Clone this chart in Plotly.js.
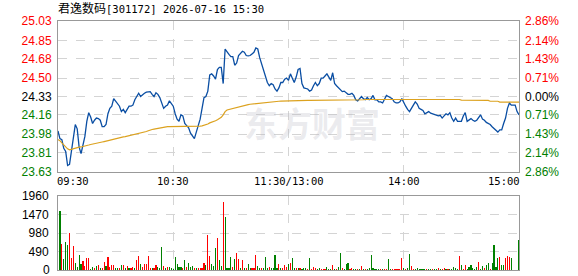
<!DOCTYPE html>
<html><head><meta charset="utf-8">
<script src="https://cdn.plot.ly/plotly-3.0.1.min.js"></script>
<style>html,body{margin:0;padding:0;background:#fff}#c{width:578px;height:276px}</style>
</head><body><div id="c"></div>
<script>
// ---- data ----
const titleName = '君逸数码';
const titleRest = '[301172] 2026-07-16 15:30';
const prevClose = 24.33;
const priceTickLabels = ['23.63','23.81','23.98','24.16','24.33','24.50','24.68','24.85','25.03'];
const pctTickLabels = ['2.86%','2.14%','1.43%','0.71%','0.00%','0.71%','1.43%','2.14%','2.86%'];
const volTickLabels = ['0','490','980','1470','1960'];
const timeLabels = ['09:30','10:30','11:30/13:00','14:00','15:00'];
const timeLabelMinutes = [0,60,120,180,240];

const price = [
24.01,23.94,23.93,23.85,23.82,23.69,23.70,23.81,23.93,24.07,
24.03,23.86,23.80,23.87,23.96,24.10,24.18,24.14,24.08,24.11,
24.13,24.125,24.11,24.05,24.05,24.07,24.17,24.22,24.24,24.31,
24.29,24.27,24.24,24.19,24.21,24.18,24.21,24.24,24.24,24.25,
24.30,24.33,24.36,24.33,24.35,24.36,24.37,24.37,24.375,24.35,
24.33,24.365,24.35,24.32,24.27,24.22,24.24,24.25,24.29,24.27,
24.24,24.17,24.12,24.10,24.16,24.15,24.08,24.06,24.04,23.99,
23.96,23.94,24.00,24.05,24.12,24.22,24.32,24.33,24.38,24.53,
24.54,24.52,24.49,24.58,24.60,24.60,24.45,24.77,24.74,24.72,
24.70,24.70,24.62,24.64,24.71,24.73,24.75,24.74,24.71,24.706,
24.71,24.725,24.74,24.78,24.77,24.69,24.63,24.57,24.53,24.46,
24.43,24.45,24.44,24.40,24.38,24.41,24.46,24.46,24.49,24.50,
24.48,24.54,24.50,24.46,24.51,24.58,24.59,24.45,24.41,24.406,
24.40,24.38,24.39,24.43,24.46,24.43,24.45,24.50,24.50,24.52,
24.54,24.51,24.48,24.55,24.45,24.43,24.41,24.39,24.375,24.38,
24.36,24.35,24.35,24.36,24.34,24.30,24.29,24.31,24.33,24.31,
24.30,24.32,24.30,24.31,24.34,24.30,24.30,24.28,24.28,24.27,
24.30,24.34,24.33,24.32,24.31,24.28,24.27,24.27,24.28,24.31,
24.27,24.24,24.21,24.19,24.22,24.25,24.28,24.26,24.22,24.21,
24.20,24.17,24.18,24.19,24.175,24.17,24.16,24.16,24.15,24.155,
24.13,24.15,24.17,24.16,24.18,24.13,24.10,24.13,24.10,24.10,
24.10,24.15,24.18,24.10,24.11,24.125,24.11,24.10,24.11,24.14,
24.16,24.12,24.11,24.09,24.08,24.07,24.05,24.03,24.02,24.00,
24.02,24.02,24.08,24.13,24.22,24.27,24.25,24.25,24.25,24.19,
24.16];

const avgPrice = [
23.93,23.92,23.90,23.88,23.86,23.845,23.835,23.84,23.85,23.855,
23.856,23.86,23.862,23.865,23.87,23.875,23.88,23.885,23.89,23.895,
23.90,23.902,23.905,23.908,23.912,23.917,23.92,23.925,23.93,23.935,
23.94,23.942,23.946,23.952,23.955,23.958,23.962,23.966,23.97,23.973,
23.977,23.98,23.985,23.99,23.995,24.00,24.005,24.012,24.02,24.024,
24.028,24.032,24.036,24.04,24.044,24.046,24.048,24.05,24.05,24.05,
24.05,24.05,24.05,24.05,24.05,24.05,24.05,24.05,24.05,24.05,
24.05,24.05,24.05,24.052,24.055,24.058,24.062,24.068,24.075,24.085,
24.09,24.096,24.105,24.115,24.125,24.137,24.16,24.19,24.205,24.21,
24.215,24.22,24.226,24.23,24.235,24.24,24.245,24.25,24.252,24.255,
24.258,24.26,24.263,24.266,24.27,24.273,24.275,24.277,24.279,24.28,
24.281,24.282,24.283,24.284,24.285,24.286,24.287,24.288,24.289,24.29,
24.29,24.29,24.291,24.291,24.292,24.292,24.292,24.293,24.293,24.293,
24.294,24.294,24.294,24.295,24.295,24.295,24.296,24.296,24.296,24.297,
24.297,24.297,24.298,24.298,24.299,24.299,24.30,24.30,24.30,24.30,
24.30,24.30,24.30,24.30,24.30,24.30,24.30,24.30,24.30,24.30,
24.302,24.302,24.302,24.302,24.302,24.302,24.302,24.302,24.302,24.302,
24.304,24.304,24.304,24.304,24.304,24.304,24.304,24.304,24.304,24.304,
24.304,24.304,24.304,24.304,24.304,24.304,24.304,24.304,24.304,24.304,
24.303,24.303,24.303,24.303,24.303,24.303,24.303,24.303,24.303,24.303,
24.302,24.302,24.302,24.302,24.302,24.302,24.302,24.302,24.302,24.302,
24.296,24.296,24.296,24.296,24.296,24.296,24.296,24.296,24.296,24.296,
24.294,24.294,24.294,24.294,24.294,24.286,24.286,24.286,24.286,24.286,
24.278,24.278,24.278,24.278,24.278,24.278,24.278,24.278,24.278,24.278,
24.278];

const volume = [
1572,698,300,750,671,989,327,645,194,80,
406,150,230,100,330,330,30,80,50,100,
130,50,50,220,100,350,80,120,120,50,
50,50,130,130,50,100,40,40,80,40,
260,370,150,80,150,150,360,60,40,60,
120,80,60,600,100,50,80,90,60,30,
350,150,80,80,40,260,80,180,80,100,
50,40,40,60,60,190,140,940,380,150,
100,580,850,260,100,1800,1410,40,40,350,
80,300,440,300,60,260,60,40,150,50,
40,40,400,100,60,40,40,350,40,80,
40,40,400,40,150,40,60,120,80,150,
185,327,50,50,50,50,30,50,50,30,
327,30,90,50,30,50,30,30,30,90,
30,30,140,30,30,90,460,50,30,170,
195,30,60,30,30,30,30,97,30,30,
30,50,406,50,30,30,30,30,30,30,
30,300,30,30,30,30,30,30,327,50,
30,60,433,115,30,30,50,30,30,30,
30,30,30,30,30,30,30,50,30,30,
50,30,30,30,30,88,50,30,380,124,
30,140,30,88,124,50,30,88,220,30,
115,50,140,195,30,195,670,88,327,350,
140,140,327,380,350,327,10,10,10,800];

// 1 = up (red), -1 = down (green)
const volDir = [
-1,1,-1,-1,-1,1,1,1,-1,-1,
-1,-1,1,1,1,1,-1,-1,1,-1,
1,-1,1,1,-1,1,1,1,1,-1,
-1,1,-1,1,-1,1,-1,1,1,-1,
1,1,-1,1,1,1,1,1,-1,1,
1,-1,-1,-1,1,-1,1,-1,-1,-1,
-1,-1,-1,-1,1,-1,1,-1,-1,-1,
1,-1,1,1,1,1,-1,1,1,-1,
-1,-1,1,-1,-1,1,-1,-1,-1,-1,
1,-1,1,1,-1,1,-1,1,-1,-1,
1,1,1,-1,-1,1,-1,-1,-1,1,
-1,-1,-1,-1,1,-1,1,1,1,-1,
1,-1,-1,1,-1,1,-1,-1,-1,1,
-1,1,1,1,-1,-1,1,1,1,-1,
-1,-1,1,-1,1,-1,-1,1,-1,-1,
-1,1,1,-1,-1,1,-1,1,-1,1,
-1,-1,-1,-1,-1,-1,-1,1,-1,1,
1,-1,-1,1,1,1,1,1,1,-1,
1,-1,-1,1,1,-1,-1,-1,-1,-1,
-1,1,-1,-1,1,-1,-1,1,-1,1,
1,-1,1,-1,-1,-1,-1,-1,1,-1,
1,1,-1,-1,-1,-1,-1,-1,1,-1,
-1,1,-1,-1,1,-1,-1,-1,-1,1,
-1,-1,1,1,1,-1,-1,1,-1,-1];

// ---- build ----
const RED = '#ff0000', GREEN = '#008000', BLACK = '#000000';
const minutes = price.map((_, i) => i);
const volX = volume.map((_, i) => i + 1);
const tickVals = priceTickLabels.map(Number);
const mid = Math.floor(tickVals.length / 2);
function colorFor(i){ return i > mid ? RED : (i === mid ? BLACK : GREEN); }
const leftText = priceTickLabels.map((t,i)=>`<span style="color:${colorFor(i)}">${t}</span>`);
const rightText = pctTickLabels.map((t,i)=>`<span style="color:${colorFor(i)}">${t}</span>`);
const yRange = [tickVals[0], tickVals[tickVals.length-1]];
const volTickVals = volTickLabels.map(Number);

const gridC = '#d4d4d4', boxC = '#999999';
const tickFont = {family:'Liberation Sans, Arial, sans-serif', size:12, color:BLACK};

const traces = [
  {x: minutes, y: price, type:'scatter', mode:'lines', line:{color:'#0a4ea3', width:1.3}, xaxis:'x', yaxis:'y', hoverinfo:'skip'},
  {x: minutes, y: avgPrice, type:'scatter', mode:'lines', line:{color:'#dca21f', width:1.2}, xaxis:'x', yaxis:'y3', hoverinfo:'skip'},
  {x: volX, y: volume, type:'bar', width:0.6, marker:{color: volDir.map(d=> d>0 ? RED : GREEN), line:{width:0}}, xaxis:'x2', yaxis:'y2', hoverinfo:'skip'}
];

const xCommon = {range:[0,240], tickmode:'array', tickvals:[60,120,180], showticklabels:false, ticks:'',
  showgrid:true, gridcolor:gridC, griddash:'dash', gridwidth:1, showline:true, mirror:true, linecolor:boxC, linewidth:1, zeroline:false, fixedrange:true};

const annotations = timeLabels.map((t,i)=>({
  text:t, x:timeLabelMinutes[i], xref:'x', y:0.357, yref:'paper', showarrow:false,
  xanchor: i===0 ? 'left' : (i===timeLabels.length-1 ? 'right' : 'center'), yanchor:'middle',
  font:{family:'DejaVu Sans Mono, monospace', size:10.5, color:BLACK}, xshift: i===0 ? -3 : (i===timeLabels.length-1 ? 3 : 0)
}));
// bottom volume label "0" at the axis floor
annotations.push({text:volTickLabels[0], x:0, xref:'paper', xanchor:'right', xshift:-6, y:volTickVals[0], yref:'y2', yanchor:'middle',
  showarrow:false, font:tickFont});
annotations.push({text:'<b>东方财富</b>', x:0.55, y:0.70, xref:'paper', yref:'paper', showarrow:false,
  font:{family:'Noto Sans CJK SC', size:34, color:'rgba(185,185,195,0.28)'}});

const layout = {
  width:578, height:276, paper_bgcolor:'#fff', plot_bgcolor:'#fff', showlegend:false,
  margin:{l:58, r:59, t:21, b:6, pad:0},
  title:{text:`<span style="font-family:'Noto Sans CJK SC';font-size:12px">${titleName}</span>${titleRest}`,
    x:0, xref:'paper', xanchor:'left', y:0.967, yref:'container', yanchor:'middle',
    font:{family:'DejaVu Sans Mono, monospace', size:10.5, color:BLACK}},
  xaxis: Object.assign({}, xCommon, {domain:[0,1], anchor:'y'}),
  xaxis2: Object.assign({}, xCommon, {domain:[0,1], anchor:'y2', matches:'x'}),
  yaxis: {domain:[0.3936,1], range:yRange, tickmode:'array', tickvals:tickVals, ticktext:leftText,
    ticks:'', ticklabelstandoff:3, tickfont:tickFont, showgrid:true, gridcolor:gridC, griddash:'dash',
    showline:true, mirror:true, linecolor:boxC, linewidth:1, zeroline:false, fixedrange:true},
  yaxis3: {overlaying:'y', side:'right', anchor:'x', range:yRange, tickmode:'array', tickvals:tickVals, ticktext:rightText,
    ticks:'', ticklabelstandoff:5, tickfont:tickFont, showgrid:false, showline:false, zeroline:false, fixedrange:true},
  yaxis2: {domain:[0,0.296], anchor:'x2', range:[0,1960], tickmode:'array', tickvals:volTickVals.slice(1), ticktext:volTickLabels.slice(1),
    ticks:'', ticklabelstandoff:6, tickfont:tickFont, showgrid:true, gridcolor:gridC, griddash:'dash',
    showline:true, mirror:true, linecolor:boxC, linewidth:1, zeroline:false, fixedrange:true},
  bargap:0,
  annotations: annotations
};

Plotly.newPlot('c', traces, layout, {staticPlot:true, displayModeBar:false});
</script>
</body></html>
